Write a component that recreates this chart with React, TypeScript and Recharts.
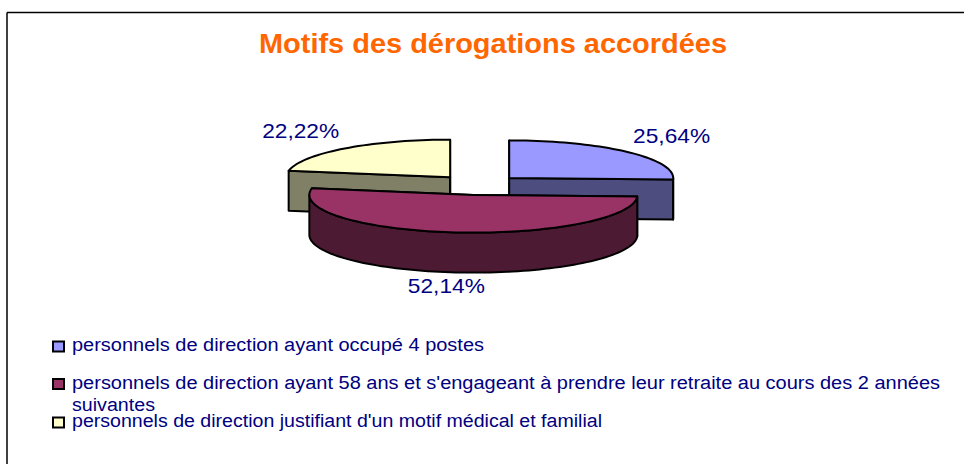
import { PieChart, Pie } from "recharts";

const WIDTH = 964;
const HEIGHT = 464;
const FONT = "'Liberation Sans', Arial, sans-serif";

const title = "Motifs des dérogations accordées";

// legend order
const legendLabels = [
  ["personnels de direction ayant occupé 4 postes"],
  [
    "personnels de direction ayant 58 ans et s'engageant à prendre leur retraite au cours des 2 années",
    "suivantes",
  ],
  ["personnels de direction justifiant d'un motif médical et familial"],
];
const legendWidths = [[412], [868, 83], [530]];
const legendColors = ["#9999ff", "#993366", "#ffffcc"];

// drawing order: the front slice has to be painted last
const sliceNames = ["yellow", "blue", "maroon"];
const sliceValues = [22.22, 25.64, 52.14];
const sliceLabels = ["22,22%", "25,64%", "52,14%"];
const sliceTops = ["#ffffcc", "#9999ff", "#993366"];
const sliceSides = ["#808066", "#4d4d80", "#4d1a33"];

const pieData = sliceNames.map((name, i) => ({
  name,
  value: sliceValues[i],
  label: sliceLabels[i],
  top: sliceTops[i],
  side: sliceSides[i],
}));

const FLATTEN = 0.23;
const DEPTH = 40;
const EXPLODE = 43.3;
const RAD = Math.PI / 180;

function arcPoints(cx: number, cy: number, r: number, from: number, to: number) {
  const pts: [number, number][] = [];
  const steps = Math.max(2, Math.ceil(Math.abs(to - from) / 2));
  for (let i = 0; i <= steps; i++) {
    const a = (from + ((to - from) * i) / steps) * RAD;
    pts.push([cx + r * Math.cos(a), cy - r * FLATTEN * Math.sin(a)]);
  }
  return pts;
}

const toPath = (pts: [number, number][]) =>
  "M" + pts.map((p) => p[0].toFixed(2) + "," + p[1].toFixed(2)).join("L") + "Z";

function Slice3D(props: any) {
  const { cx, cy, outerRadius, startAngle, endAngle, payload } = props;
  const top = payload?.top ?? props.top;
  const side = payload?.side ?? props.side;
  const mid = (startAngle + endAngle) / 2;
  const x = cx + EXPLODE * Math.cos(mid * RAD);
  const y = cy - EXPLODE * FLATTEN * Math.sin(mid * RAD);
  const rim = arcPoints(x, y, outerRadius, startAngle, endAngle);
  const first = rim[0];
  const last = rim[rim.length - 1];
  const drop = (p: [number, number]): [number, number] => [p[0], p[1] + DEPTH];
  const apex: [number, number] = [x, y];

  // the part of the rim that faces the viewer
  const lo = Math.max(Math.min(startAngle, endAngle), -180);
  const hi = Math.min(Math.max(startAngle, endAngle), 0);
  const front = hi > lo ? arcPoints(x, y, outerRadius, hi, lo) : [];

  const stroke = { stroke: "#000", strokeWidth: 2, strokeLinejoin: "round" as const };
  return (
    <g>
      <path d={toPath([apex, first, drop(first), drop(apex)])} fill={side} {...stroke} />
      <path d={toPath([apex, last, drop(last), drop(apex)])} fill={side} {...stroke} />
      {front.length > 0 && (
        <path d={toPath([...front, ...front.map(drop).reverse()])} fill={side} {...stroke} />
      )}
      <path d={toPath([apex, ...rim])} fill={top} {...stroke} />
    </g>
  );
}

function sliceLabel(props: any) {
  const { cx, cy, midAngle, payload } = props;
  const c = Math.cos(midAngle * RAD);
  const s = Math.sin(midAngle * RAD);
  const x = cx + 272 * c - 2.5;
  const y = cy - 71 * s + (s < 0 ? 30 : 0);
  return (
    <text
      key={payload?.name}
      x={x}
      y={y + 7.5}
      textAnchor="middle"
      fontFamily={FONT}
      fontSize={21}
      textLength={77}
      lengthAdjust="spacingAndGlyphs"
      fill="#000080"
    >
      {payload?.label ?? props.label}
    </text>
  );
}

const legendRows = [351, 388.5, 427];
const legendBoxes = [341.5, 379, 417.5];

export default function App() {
  return (
    <div style={{ position: "absolute", left: 0, top: 0, width: WIDTH, height: HEIGHT, background: "#fff" }}>
      <PieChart width={WIDTH} height={HEIGHT} margin={{ top: 0, right: 0, bottom: 0, left: 0 }}>
        <line x1={7} y1={12.5} x2={WIDTH} y2={12.5} stroke="#000" strokeWidth={1.5} />
        <line x1={7} y1={12.5} x2={7} y2={HEIGHT} stroke="#000" strokeWidth={1.5} />
        <text
          x={259}
          y={53}
          fontFamily={FONT}
          fontWeight="bold"
          fontSize={28}
          textLength={468}
          lengthAdjust="spacingAndGlyphs"
          fill="#ff6600"
        >
          {title}
        </text>
        <Pie
          data={pieData}
          dataKey="value"
          nameKey="name"
          cx={478}
          cy={185}
          outerRadius={164}
          startAngle={170}
          endAngle={-190}
          paddingAngle={0}
          shape={Slice3D}
          label={sliceLabel}
          labelLine={false}
          isAnimationActive={false}
        />
        {legendLabels.map((lines, i) => (
          <g key={i}>
            <rect
              x={53}
              y={legendBoxes[i]}
              width={11}
              height={10}
              fill={legendColors[i]}
              stroke="#000"
              strokeWidth={2}
            />
            {lines.map((line, j) => (
              <text
                key={j}
                x={72}
                y={legendRows[i] + j * 22.5}
                fontFamily={FONT}
                fontSize={18}
                textLength={legendWidths[i][j]}
                lengthAdjust="spacingAndGlyphs"
                fill="#000080"
              >
                {line}
              </text>
            ))}
          </g>
        ))}
      </PieChart>
    </div>
  );
}
